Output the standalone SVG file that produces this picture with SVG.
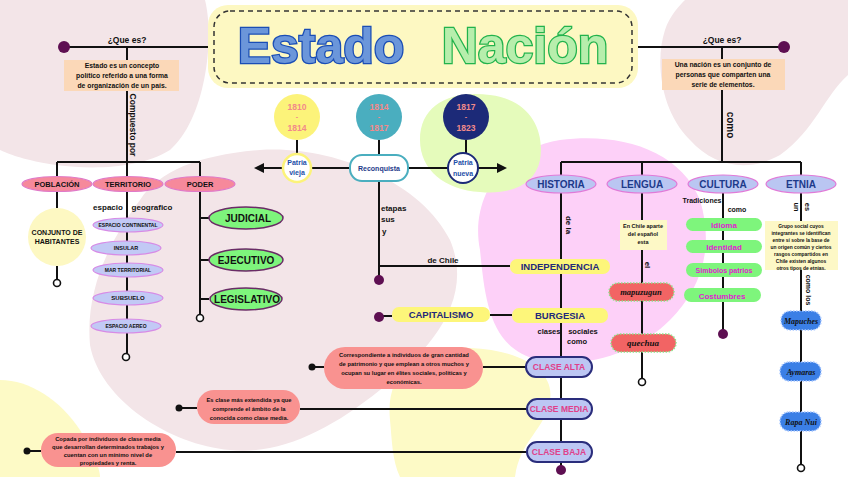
<svg xmlns="http://www.w3.org/2000/svg" width="848" height="477" viewBox="0 0 848 477">
<defs>
<style>
.ln{stroke:#111;stroke-width:2;fill:none}
.t{font-family:"Liberation Sans",Arial,sans-serif;font-weight:bold;fill:#111;text-anchor:middle}
.pk{fill:#f6899b;stroke:#e07bc8;stroke-width:1.2}
.lv{fill:#c2c9f5;stroke:#d78be6;stroke-width:1.2}
.lv2{fill:#bac6f2;stroke:#e07bd8;stroke-width:1.2}
.gr{fill:#7ef57c;stroke:#6a2c66;stroke-width:1.5}
.yl{fill:#fdf67a}
.nav{fill:#23297a}
.cl{fill:#bcc6f3;stroke:#2a2d7c;stroke-width:2}
.cb{fill:#7ef57c}
.mg{fill:#e01ad2}
.sal{fill:#f99290}
.peach{fill:#fbd8b8}
.ybox{fill:#fdf8c6}
.dot{fill:#5e0f52}
.bd{fill:#111}
.ho{fill:#fff;stroke:#111;stroke-width:1.6}
.red{fill:#f26464;stroke:#8ee08a;stroke-width:1.5;stroke-dasharray:1.5 1.5}
.blu{fill:#3b7fe6;stroke:#a9c8ff;stroke-width:1.5;stroke-dasharray:1.5 1.5}
.scr{font-family:"Liberation Serif",serif;font-style:italic;font-weight:bold;fill:#111;text-anchor:middle}
</style>
<marker id="ar" viewBox="0 0 10 10" refX="8" refY="5" markerWidth="5" markerHeight="5" orient="auto-start-reverse"><path d="M0,0 L10,5 L0,10 Z" fill="#111"/></marker>
</defs>
<rect width="848" height="477" fill="#ffffff"/>
<!-- background blobs -->
<g id="background">
<path d="M0,0 H205 C215,40 205,120 170,150 C130,175 60,168 30,160 C12,156 0,150 0,150 Z" fill="#f3e5e8"/>
<path d="M140,200 C160,170 200,155 260,150 C330,145 420,180 450,240 C475,300 430,350 380,390 C330,430 280,455 230,450 C170,445 100,400 90,345 C85,290 110,240 140,200 Z" fill="#f3e5e8"/>
<path d="M685,0 H848 V75 C825,95 815,130 780,155 C750,172 715,168 690,140 C660,110 655,60 665,30 C670,15 680,5 685,0 Z" fill="#f3e5e8"/>
<path d="M480,250 C470,200 500,150 560,140 C620,132 680,150 700,200 C715,250 700,290 670,320 C640,350 590,370 540,360 C490,350 485,300 480,250 Z" fill="#fdd0f8"/>
<path d="M420,140 C420,105 450,90 490,95 C530,100 545,130 540,160 C535,185 510,195 480,192 C445,190 420,170 420,140 Z" fill="#e5fbbb"/>
<path d="M0,380 C30,380 60,400 80,430 C95,455 100,470 100,477 H0 Z" fill="#fdfac6"/>
<path d="M390,420 C385,370 420,345 470,348 C520,350 555,370 550,400 C545,430 520,440 515,477 H400 C392,460 392,440 390,420 Z" fill="#fdfac6"/>
</g>
<!-- connectors -->
<g id="connectors">
<path class="ln" d="M64,47 H208 M638,47 H784"/>
<path class="ln" d="M127,47 V60 M127,91 V162 M57,162 H200 M57,162 V177 M127,162 V177 M200,162 V177"/>
<path class="ln" d="M57,191 V208 M57,266 V280"/>
<path class="ln" d="M127,191 V354"/>
<path class="ln" d="M200,191 V315 M200,218 H209 M200,260 H209 M200,299 H209"/>
<path class="ln" d="M722,47 V59 M722,90 V162 M561,162 H801 M561,162 V175 M642,162 V175 M801,162 V175"/>
<path class="ln" d="M297,140 V154 M379,140 V155 M466,140 V153"/>
<path class="ln" d="M283,168 H256" marker-end="url(#ar)"/>
<path class="ln" d="M478,168 H505" marker-end="url(#ar)"/>
<path class="ln" d="M311,168 H350 M408,168 H448"/>
<path class="ln" d="M379,181 V280 M379,266 H510"/>
<path class="ln" d="M561,193 V468"/>
<path class="ln" d="M379,316 H392 M490,315 H512"/>
<path class="ln" d="M642,193 V220 M642,250 V283 M642,300 V334 M642,352 V378"/>
<path class="ln" d="M723,193 V333"/>
<path class="ln" d="M801,193 V221 M801,270 V465"/>
<path class="ln" d="M312,367 H324 M483,367 H526"/>
<path class="ln" d="M179,408 H197 M300,409 H527"/>
<path class="ln" d="M27,451 H41 M176,452 H527"/>
</g>
<!-- title -->
<g id="title">
<rect x="208" y="5" width="430" height="83" rx="20" fill="#fdf8c2"/>
<rect x="214" y="11" width="418" height="72" rx="16" fill="none" stroke="#333" stroke-width="1.5" stroke-dasharray="5 4"/>
<text x="321" y="63" text-anchor="middle" font-family="'Liberation Sans',Arial,sans-serif" font-weight="bold" font-size="50" fill="#6b96da" stroke="#1a4db5" stroke-width="2.5" paint-order="stroke">Estado</text>
<text x="525" y="63" text-anchor="middle" font-family="'Liberation Sans',Arial,sans-serif" font-weight="bold" font-size="50" fill="#b7eeac" stroke="#22b34c" stroke-width="2.5" paint-order="stroke">Nación</text>
</g>
<!-- left top -->
<g id="estado-que">
<circle class="dot" cx="64" cy="47" r="6"/>
<text class="t" x="127" y="43" font-size="8.5">¿Que es?</text>
<rect class="peach" x="64" y="60" width="115" height="31"/>
<text class="t" x="122" y="68" font-size="6.8">Estado es un concepto</text>
<text class="t" x="122" y="78" font-size="6.8">político referido a una forma</text>
<text class="t" x="122" y="88" font-size="6.8">de organización de un país.</text>
<text class="t" transform="translate(130,125) rotate(90)" font-size="8.5">Compuesto por</text>
</g>
<g id="poblacion">
<ellipse class="pk" cx="57" cy="184" rx="35" ry="7.5"/>
<text class="t" x="57" y="187" font-size="7.5">POBLACIÓN</text>
<circle cx="57" cy="237" r="29" fill="#fdf8c2"/>
<text class="t" x="57" y="235" font-size="7">CONJUNTO DE</text>
<text class="t" x="57" y="244" font-size="7">HABITANTES</text>
<circle class="ho" cx="57" cy="283" r="3.5"/>
</g>
<g id="territorio">
<ellipse class="pk" cx="128" cy="184" rx="35" ry="7.5"/>
<text class="t" x="128" y="187" font-size="7.5">TERRITORIO</text>
<text class="t" x="108" y="210" font-size="8">espacio</text>
<text class="t" x="152" y="210" font-size="8">geografico</text>
<ellipse class="lv" cx="128" cy="225" rx="35" ry="7"/>
<text class="t" x="128" y="227" font-size="5">ESPACIO  CONTINENTAL</text>
<ellipse class="lv" cx="126" cy="248" rx="35" ry="7"/>
<text class="t" x="126" y="250" font-size="5.5">INSULAR</text>
<ellipse class="lv" cx="128" cy="270" rx="35" ry="7"/>
<text class="t" x="128" y="272" font-size="5">MAR TERRITORIAL</text>
<ellipse class="lv" cx="128" cy="298" rx="35" ry="7"/>
<text class="t" x="128" y="300" font-size="6">SUBSUELO</text>
<ellipse class="lv" cx="126" cy="326" rx="35" ry="7"/>
<text class="t" x="126" y="328" font-size="5">ESPACIO AEREO</text>
<circle class="ho" cx="126" cy="357" r="3.5"/>
</g>
<g id="poder">
<ellipse class="pk" cx="200" cy="184" rx="35" ry="7.5"/>
<text class="t" x="200" y="187" font-size="7.5">PODER</text>
<ellipse class="gr" cx="246" cy="218" rx="37" ry="11"/>
<text class="t" x="248" y="222" font-size="10">JUDICIAL</text>
<ellipse class="gr" cx="246" cy="260" rx="37" ry="11"/>
<text class="t" x="246" y="264" font-size="10">EJECUTIVO</text>
<ellipse class="gr" cx="246" cy="299" rx="36" ry="11"/>
<text class="t" x="247" y="303" font-size="10">LEGISLATIVO</text>
<circle class="ho" cx="200" cy="318" r="3.5"/>
</g>
<!-- timeline -->
<g id="periodo-1810">
<circle cx="297" cy="117" r="23" fill="#fcf37a"/>
<text class="t" x="297" y="110" font-size="8.5" fill="#f28a8a" style="fill:#f28a8a">1810</text>
<text class="t" x="297" y="119" font-size="7" style="fill:#f28a8a">-</text>
<text class="t" x="297" y="131" font-size="8.5" style="fill:#f28a8a">1814</text>
</g>
<g id="periodo-1814">
<circle cx="379" cy="117" r="23" fill="#4aaebf"/>
<text class="t" x="379" y="110" font-size="8.5" style="fill:#f28a8a">1814</text>
<text class="t" x="379" y="119" font-size="7" style="fill:#f28a8a">-</text>
<text class="t" x="379" y="131" font-size="8.5" style="fill:#f28a8a">1817</text>
</g>
<g id="periodo-1817">
<circle cx="466" cy="117" r="23" fill="#1c2a78"/>
<text class="t" x="466" y="110" font-size="8.5" style="fill:#f28a8a">1817</text>
<text class="t" x="466" y="119" font-size="7" style="fill:#f28a8a">-</text>
<text class="t" x="466" y="131" font-size="8.5" style="fill:#f28a8a">1823</text>
</g>
<g id="patria-vieja">
<circle cx="297" cy="168" r="14" fill="#fff" stroke="#fcf37a" stroke-width="2.5"/>
<text class="t" x="297" y="165" font-size="7" style="fill:#1d4fa8">Patria</text>
<text class="t" x="297" y="175" font-size="7" style="fill:#1d4fa8">vieja</text>
</g>
<g id="reconquista">
<rect x="350" y="155" width="58" height="26" rx="12" fill="#fff" stroke="#4aaebf" stroke-width="2"/>
<text class="t" x="379" y="171" font-size="7" style="fill:#1d3a8a">Reconquista</text>
</g>
<g id="patria-nueva">
<circle cx="463" cy="168" r="15" fill="#fff" stroke="#1c2a78" stroke-width="2"/>
<text class="t" x="463" y="165" font-size="7" style="fill:#1d4fa8">Patria</text>
<text class="t" x="463" y="176" font-size="7" style="fill:#1d4fa8">nueva</text>
</g>
<g id="etapas-labels">
<text class="t" x="381" y="211" font-size="8" text-anchor="start" style="text-anchor:start">etapas</text>
<text class="t" x="381" y="222" font-size="8" style="text-anchor:start">sus</text>
<text class="t" x="382" y="234" font-size="8" style="text-anchor:start">y</text>
<text class="t" x="443" y="263" font-size="8">de Chile</text>
<circle class="dot" cx="379" cy="280" r="5"/>
</g>
<!-- right top -->
<g id="nacion-que">
<circle class="dot" cx="784" cy="47" r="6"/>
<text class="t" x="722" y="43" font-size="8.5">¿Que es?</text>
<rect class="peach" x="662" y="59" width="123" height="31"/>
<text class="t" x="723" y="67" font-size="6.8">Una nación es un conjunto de</text>
<text class="t" x="723" y="77" font-size="6.8">personas que comparten una</text>
<text class="t" x="723" y="87" font-size="6.8">serie de elementos.</text>
<text class="t" transform="translate(727,125) rotate(90)" font-size="10">como</text>
</g>
<g id="historia">
<ellipse class="lv2" cx="561" cy="184" rx="35" ry="9"/>
<text class="t" x="561" y="188" font-size="10" style="fill:#1d3a8a">HISTORIA</text>
<text class="t" transform="translate(566,225) rotate(90)" font-size="8">de la</text>
</g>
<g id="independencia">
<rect class="yl" x="510" y="259" width="100" height="15" rx="7"/>
<text class="t" x="560" y="270" font-size="9.5" style="fill:#23297a">INDEPENDENCIA</text>
</g>
<g id="capitalismo">
<circle class="dot" cx="379" cy="317" r="5"/>
<rect class="yl" x="392" y="307" width="98" height="15" rx="7"/>
<text class="t" x="441" y="318" font-size="9.5" style="fill:#23297a">CAPITALISMO</text>
</g>
<g id="burgesia">
<rect class="yl" x="512" y="308" width="96" height="15" rx="7"/>
<text class="t" x="560" y="319" font-size="9.5" style="fill:#23297a">BURGESIA</text>
<text class="t" x="549" y="334" font-size="7.5">clases</text>
<text class="t" x="583" y="334" font-size="7.5">sociales</text>
<text class="t" x="577" y="344" font-size="7.5">como</text>
</g>
<g id="clase-alta">
<rect class="cl" x="526" y="357" width="66" height="20" rx="10"/>
<text class="t" x="559" y="370" font-size="8.5" style="fill:#e0408a">CLASE ALTA</text>
<circle class="bd" cx="312" cy="367" r="3.5"/>
<rect class="sal" x="324" y="347" width="159" height="42" rx="21"/>
<text class="t" x="404" y="357" font-size="5.8">Correspondiente a individuos de gran cantidad</text>
<text class="t" x="404" y="366" font-size="5.8">de patrimonio y que emplean a otros muchos y</text>
<text class="t" x="404" y="375" font-size="5.8">ocupan su lugar en élites sociales, políticas y</text>
<text class="t" x="404" y="384" font-size="5.8">económicas.</text>
</g>
<g id="clase-media">
<rect class="cl" x="527" y="399" width="65" height="20" rx="10"/>
<text class="t" x="559" y="412" font-size="8.5" style="fill:#e0408a">CLASE MEDIA</text>
<circle class="bd" cx="179" cy="408" r="3.5"/>
<rect class="sal" x="197" y="390" width="103" height="34" rx="17"/>
<text class="t" x="249" y="402" font-size="5.8">Es clase más extendida ya que</text>
<text class="t" x="249" y="411" font-size="5.8">comprende el ámbito de la</text>
<text class="t" x="249" y="420" font-size="5.8">conocida como clase media.</text>
</g>
<g id="clase-baja">
<rect class="cl" x="527" y="442" width="65" height="20" rx="10"/>
<text class="t" x="559" y="455" font-size="8.5" style="fill:#e0408a">CLASE BAJA</text>
<circle class="dot" cx="561" cy="470" r="5"/>
<circle class="bd" cx="27" cy="451" r="3.5"/>
<rect class="sal" x="41" y="433" width="135" height="34" rx="17"/>
<text class="t" x="108" y="441" font-size="5.8">Copada por individuos de clase media</text>
<text class="t" x="108" y="449" font-size="5.8">que desarrollan determinados trabajos y</text>
<text class="t" x="108" y="457" font-size="5.8">cuentan con un mínimo nivel de</text>
<text class="t" x="108" y="465" font-size="5.8">propiedades y renta.</text>
</g>
<g id="lengua">
<ellipse class="lv2" cx="642" cy="184" rx="35" ry="9"/>
<text class="t" x="642" y="188" font-size="10" style="fill:#1d3a8a">LENGUA</text>
<rect class="ybox" x="620" y="220" width="47" height="30"/>
<text class="t" x="643" y="228" font-size="5.5">En Chile aparte</text>
<text class="t" x="643" y="236" font-size="5.5">del español</text>
<text class="t" x="643" y="244" font-size="5.5">esta</text>
<text class="t" transform="translate(645,265) rotate(90)" font-size="8">el</text>
<rect class="red" x="609" y="283" width="65" height="18" rx="9"/>
<text class="scr" x="641" y="295" font-size="8.5">mapuzugun</text>
<rect class="red" x="611" y="334" width="65" height="18" rx="9"/>
<text class="scr" x="643" y="346" font-size="9">quechua</text>
<circle class="ho" cx="642" cy="382" r="3.5"/>
</g>
<g id="cultura">
<ellipse class="lv2" cx="723" cy="184" rx="35" ry="9"/>
<text class="t" x="723" y="188" font-size="10" style="fill:#1d3a8a">CULTURA</text>
<text class="t" x="702" y="203" font-size="7">Tradiciones</text>
<text class="t" x="737" y="212" font-size="7">como</text>
<rect class="cb" x="686" y="218" width="76" height="13" rx="6.5"/>
<text class="t" x="724" y="228" font-size="8" style="fill:#e01ad2">Idioma</text>
<rect class="cb" x="686" y="240" width="76" height="13" rx="6.5"/>
<text class="t" x="724" y="250" font-size="8" style="fill:#e01ad2">Identidad</text>
<rect class="cb" x="686" y="263" width="76" height="14" rx="7"/>
<text class="t" x="724" y="273" font-size="7" style="fill:#e01ad2">Simbolos patrios</text>
<rect class="cb" x="684" y="288" width="77" height="14" rx="7"/>
<text class="t" x="722" y="299" font-size="8" style="fill:#e01ad2">Costumbres</text>
<circle class="dot" cx="723" cy="334" r="5"/>
</g>
<g id="etnia">
<ellipse class="lv2" cx="801" cy="184" rx="35" ry="9"/>
<text class="t" x="801" y="188" font-size="10" style="fill:#1d3a8a">ETNIA</text>
<text class="t" transform="translate(794,207) rotate(90)" font-size="7.5">un</text>
<text class="t" transform="translate(805,207) rotate(90)" font-size="7.5">es</text>
<rect class="ybox" x="765" y="221" width="73" height="49"/>
<text class="t" x="801" y="228" font-size="4.9">Grupo social cuyos</text>
<text class="t" x="801" y="235" font-size="4.9">integrantes se identifican</text>
<text class="t" x="801" y="242" font-size="4.9">entre sí sobre la base de</text>
<text class="t" x="801" y="249" font-size="4.9">un origen común y ciertos</text>
<text class="t" x="801" y="256" font-size="4.9">rasgos compartidos en</text>
<text class="t" x="801" y="263" font-size="4.9">Chile existen algunos</text>
<text class="t" x="801" y="270" font-size="4.9">otros tipos de etnias.</text>
<text class="t" transform="translate(806,290) rotate(90)" font-size="7">como los</text>
<rect class="blu" x="781" y="311" width="40" height="19" rx="9"/>
<text class="scr" x="801" y="324" font-size="8">Mapuches</text>
<rect class="blu" x="780" y="362" width="41" height="19" rx="9"/>
<text class="scr" x="801" y="375" font-size="8">Aymaras</text>
<rect class="blu" x="780" y="412" width="41" height="19" rx="9"/>
<text class="scr" x="801" y="425" font-size="8">Rapa Nui</text>
<circle class="ho" cx="801" cy="468" r="3.5"/>
</g>
</svg>
